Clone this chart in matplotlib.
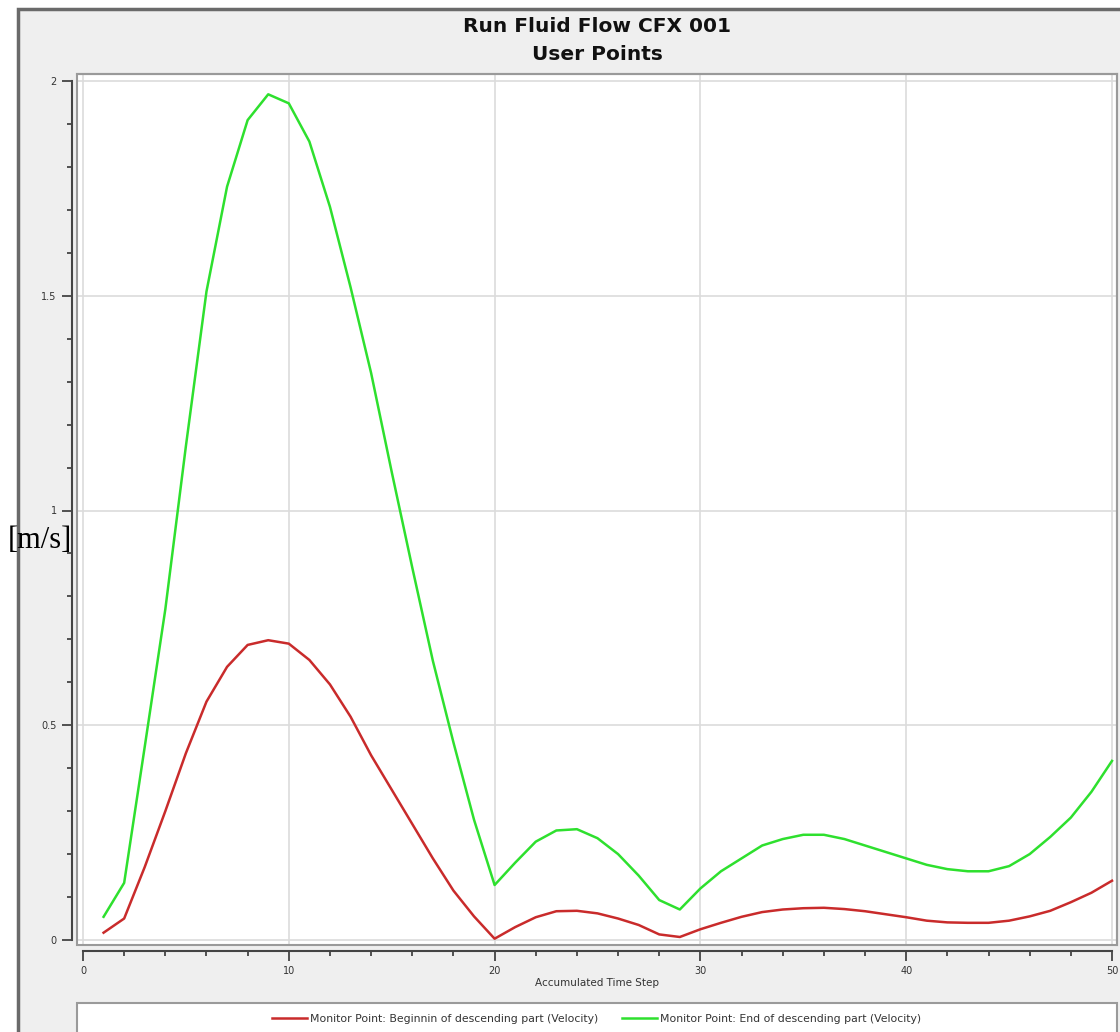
import matplotlib
matplotlib.use("Agg")
import matplotlib.pyplot as plt
from matplotlib.patches import Rectangle
from matplotlib.ticker import MultipleLocator

# accumulated time step
steps = list(range(1, 51))

# velocity at the monitor points [m/s]
v_begin = [0.017, 0.05, 0.17, 0.30, 0.435, 0.555, 0.636, 0.687, 0.698, 0.69,
           0.652, 0.595, 0.52, 0.43, 0.35, 0.27, 0.19, 0.115, 0.055, 0.003,
           0.03, 0.053, 0.067, 0.068, 0.062, 0.05, 0.035, 0.013, 0.007, 0.025,
           0.04, 0.054, 0.065, 0.071, 0.074, 0.075, 0.072, 0.067, 0.06, 0.053,
           0.045, 0.041, 0.04, 0.04, 0.045, 0.055, 0.068, 0.088, 0.11, 0.138]
v_end = [0.054, 0.133, 0.45, 0.77, 1.15, 1.51, 1.754, 1.909, 1.969, 1.948,
         1.859, 1.707, 1.52, 1.32, 1.09, 0.867, 0.65, 0.46, 0.28, 0.128,
         0.18, 0.229, 0.255, 0.258, 0.237, 0.2, 0.15, 0.093, 0.071, 0.12,
         0.16, 0.19, 0.22, 0.235, 0.245, 0.245, 0.235, 0.22, 0.205, 0.19,
         0.175, 0.165, 0.16, 0.16, 0.172, 0.2, 0.24, 0.285, 0.345, 0.417]

label_begin = "Monitor Point: Beginnin of descending part (Velocity)"
label_end = "Monitor Point: End of descending part (Velocity)"

W, H = 1120, 1032
fig = plt.figure(figsize=(W / 100, H / 100), dpi=100)
fig.patch.set_facecolor("white")

# grey panel behind everything
fig.patches.append(Rectangle((18 / W, -0.01), 1.01 - 18 / W, 1 - 9 / H + 0.01,
                             transform=fig.transFigure, facecolor="#efefef",
                             edgecolor="#6a6a6a", lw=2.5, zorder=-2))
# legend box
fig.patches.append(Rectangle((77 / W, -0.01), (1117 - 77) / W, (1032 - 1003) / H + 0.01,
                             transform=fig.transFigure, facecolor="white",
                             edgecolor="#9a9a9a", lw=1.5, zorder=-1))

ax = fig.add_axes([77 / W, 1 - 945 / H, (1117 - 77) / W, (945 - 74) / H])
ax.set_facecolor("white")

ax.plot(steps, v_begin, color="#c92b2b", lw=1.8, label=label_begin)
ax.plot(steps, v_end, color="#2ee02e", lw=1.8, label=label_end)

ax.set_xlim(-6 / 20.58, 50 + 5 / 20.58)
ax.set_ylim(-5 / 429.5, 2 + 7 / 429.5)

ax.xaxis.set_major_locator(MultipleLocator(10))
ax.xaxis.set_minor_locator(MultipleLocator(2))
ax.yaxis.set_major_locator(MultipleLocator(0.5))
ax.yaxis.set_minor_locator(MultipleLocator(0.1))
ax.yaxis.set_major_formatter(plt.FuncFormatter(lambda v, p: "%g" % v))
ax.grid(True, which="major", color="#dcdcdc", lw=1.2)
ax.set_axisbelow(True)

for s in ["top", "right"]:
    ax.spines[s].set_color("#9a9a9a")
    ax.spines[s].set_linewidth(1.5)
ax.spines["left"].set_position(("outward", 3.6))
ax.spines["bottom"].set_position(("outward", 4.3))
ax.spines["left"].set_bounds(0, 2)
ax.spines["bottom"].set_bounds(0, 50)
for s in ["left", "bottom"]:
    ax.spines[s].set_color("#444444")
    ax.spines[s].set_linewidth(1.5)
# frame of the white area
ax.add_patch(Rectangle((0, 0), 1, 1, transform=ax.transAxes, fill=False,
                       edgecolor="#9a9a9a", lw=1.5, clip_on=False))

ax.tick_params(which="major", length=7, width=1.3, color="#444444",
               labelsize=7, labelcolor="#333333", pad=4)
ax.tick_params(which="minor", length=3.5, width=1.3, color="#444444")

ax.set_xlabel("Accumulated Time Step", fontsize=7.5, color="#333333", labelpad=1)

fig.text(597 / W, 1 - 27 / H, "Run Fluid Flow CFX 001", ha="center", va="center",
         fontsize=14.5, fontweight="bold", color="#111111")
fig.text(597 / W, 1 - 55 / H, "User Points", ha="center", va="center",
         fontsize=14.5, fontweight="bold", color="#111111")
fig.text(40 / W, 1 - 540 / H, "[m/s]", ha="center", va="center",
         fontsize=22, family="Liberation Serif", color="black")

fig.legend(loc="center", bbox_to_anchor=(597 / W, 1 - 1019 / H), ncol=2,
           frameon=False, fontsize=7.8, handlelength=3.2, handletextpad=0.3,
           columnspacing=2.2, labelcolor="#333333")

fig.savefig("out.png", dpi=100)
